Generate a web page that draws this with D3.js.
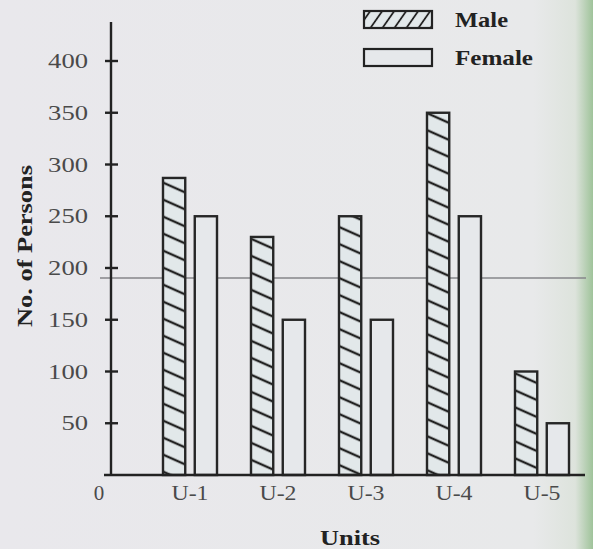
<!DOCTYPE html>
<html>
<head>
<meta charset="utf-8">
<script src="https://cdn.jsdelivr.net/npm/d3@7"></script>
<style>
  html, body { margin: 0; padding: 0; background: #e8e8ea; }
  svg { display: block; }
</style>
</head>
<body>
<svg id="chart" width="593" height="549"></svg>
<script>
// ---- data ----
const units = ["U-1", "U-2", "U-3", "U-4", "U-5"];
const series = ["Male", "Female"];
const maleValues = [287, 230, 250, 350, 100];
const femaleValues = [250, 150, 150, 250, 50];
const yTicks = [50, 100, 150, 200, 250, 300, 350, 400];

const svg = d3.select("#chart");
const W = 593, H = 549;
const serif = "'Liberation Serif', 'Times New Roman', serif";

// background (scanned page tone)
const defs = svg.append("defs");
const grad = defs.append("linearGradient").attr("id", "page").attr("x1", 0).attr("x2", 1).attr("y1", 0).attr("y2", 0);
grad.append("stop").attr("offset", "0%").attr("stop-color", "#e9e8ec");
grad.append("stop").attr("offset", "90%").attr("stop-color", "#e8e9ea");
grad.append("stop").attr("offset", "97%").attr("stop-color", "#dde3dc");
grad.append("stop").attr("offset", "100%").attr("stop-color", "#9fc39a");
svg.append("rect").attr("width", W).attr("height", H).attr("fill", "url(#page)");

// patterns
const barHatch = defs.append("pattern").attr("id", "hatchBar")
  .attr("patternUnits", "userSpaceOnUse").attr("width", 12).attr("height", 17)
  .attr("patternTransform", "skewY(24)");
barHatch.append("rect").attr("width", 12).attr("height", 17).attr("fill", "#e2e8ea");
barHatch.append("line").attr("x1", 0).attr("x2", 12).attr("y1", 8).attr("y2", 8)
  .attr("stroke", "#222").attr("stroke-width", 2.6);

const legHatch = defs.append("pattern").attr("id", "hatchLeg")
  .attr("patternUnits", "userSpaceOnUse").attr("width", 12).attr("height", 12)
  .attr("patternTransform", "skewX(-35)");
legHatch.append("rect").attr("width", 12).attr("height", 12).attr("fill", "#e2e8ea");
legHatch.append("line").attr("x1", 6).attr("x2", 6).attr("y1", 0).attr("y2", 12)
  .attr("stroke", "#222").attr("stroke-width", 2.2);

// scales
const y = d3.scaleLinear().domain([0, 400]).range([475, 61]);
const x0 = d3.scaleBand().domain(units).range([146, 586]);
const x1 = d3.scaleBand().domain(series).range([17, 71]).paddingInner(0.3);
const axisX = 111;

// faint scan line across the page
svg.append("line").attr("x1", 100).attr("x2", 586).attr("y1", 278).attr("y2", 278)
  .attr("stroke", "#86868a").attr("stroke-width", 1.3);

// bars
const rows = units.map((u, i) => ({ unit: u, Male: maleValues[i], Female: femaleValues[i] }));
const g = svg.append("g");
rows.forEach(r => {
  series.forEach(s => {
    g.append("rect")
      .attr("x", x0(r.unit) + x1(s))
      .attr("y", y(r[s]))
      .attr("width", x1.bandwidth())
      .attr("height", y(0) - y(r[s]))
      .attr("fill", s === "Male" ? "url(#hatchBar)" : "#e6e8eb")
      .attr("stroke", "#262626")
      .attr("stroke-width", 2.4);
  });
});

// y axis
const yAxis = d3.axisLeft(y).tickValues(yTicks).tickSize(0).tickPadding(23).tickFormat(d3.format("d"));
const ya = svg.append("g").attr("transform", `translate(${axisX},0)`).call(yAxis);
ya.select(".domain").remove();
ya.selectAll("text").attr("font-family", serif).attr("font-size", 21).attr("fill", "#4a4a4a")
  .attr("textLength", d => String(d).length * 13.3).attr("lengthAdjust", "spacingAndGlyphs");
svg.append("line").attr("x1", axisX).attr("x2", axisX).attr("y1", 22).attr("y2", y(0))
  .attr("stroke", "#222").attr("stroke-width", 2.4);
svg.selectAll(".ytick").data(yTicks).enter().append("line")
  .attr("class", "ytick")
  .attr("x1", axisX - 6).attr("x2", axisX + 7)
  .attr("y1", d => y(d)).attr("y2", d => y(d))
  .attr("stroke", "#222").attr("stroke-width", 2.4);

// x axis
svg.append("line").attr("x1", 104).attr("x2", 585).attr("y1", y(0)).attr("y2", y(0))
  .attr("stroke", "#222").attr("stroke-width", 2.6);
const xAxis = d3.axisBottom(x0).tickSize(0).tickPadding(10);
const xa = svg.append("g").attr("transform", `translate(0,${y(0)})`).call(xAxis);
xa.select(".domain").remove();
xa.selectAll("text").attr("font-family", serif).attr("font-size", 21).attr("fill", "#4a4a4a")
  .attr("textLength", 37).attr("lengthAdjust", "spacingAndGlyphs");
svg.append("text").attr("x", 99).attr("y", 500).attr("text-anchor", "middle")
  .attr("font-family", serif).attr("font-size", 21).attr("fill", "#4a4a4a").text("0");

// axis titles
svg.append("text").attr("x", 350).attr("y", 545).attr("text-anchor", "middle")
  .attr("font-family", serif).attr("font-size", 22).attr("font-weight", "bold").attr("fill", "#222")
  .attr("textLength", 60).attr("lengthAdjust", "spacingAndGlyphs")
  .text("Units");
svg.append("text").attr("transform", "translate(32,246) rotate(-90)").attr("text-anchor", "middle")
  .attr("font-family", serif).attr("font-size", 20).attr("font-weight", "bold").attr("fill", "#222")
  .attr("textLength", 162).attr("lengthAdjust", "spacingAndGlyphs")
  .text("No. of Persons");

// legend
const legend = svg.append("g");
const legendLen = { Male: 53, Female: 78 };
series.forEach((s, i) => {
  const ly = 11 + i * 38;
  legend.append("rect").attr("x", 364).attr("y", ly).attr("width", 68).attr("height", 17)
    .attr("fill", s === "Male" ? "url(#hatchLeg)" : "#e6e8eb")
    .attr("stroke", "#222").attr("stroke-width", 2.2);
  legend.append("text").attr("x", 455).attr("y", ly + 16)
    .attr("font-family", serif).attr("font-size", 21).attr("font-weight", "bold").attr("fill", "#222")
    .attr("textLength", legendLen[s]).attr("lengthAdjust", "spacingAndGlyphs")
    .text(s);
});
</script>
</body>
</html>
